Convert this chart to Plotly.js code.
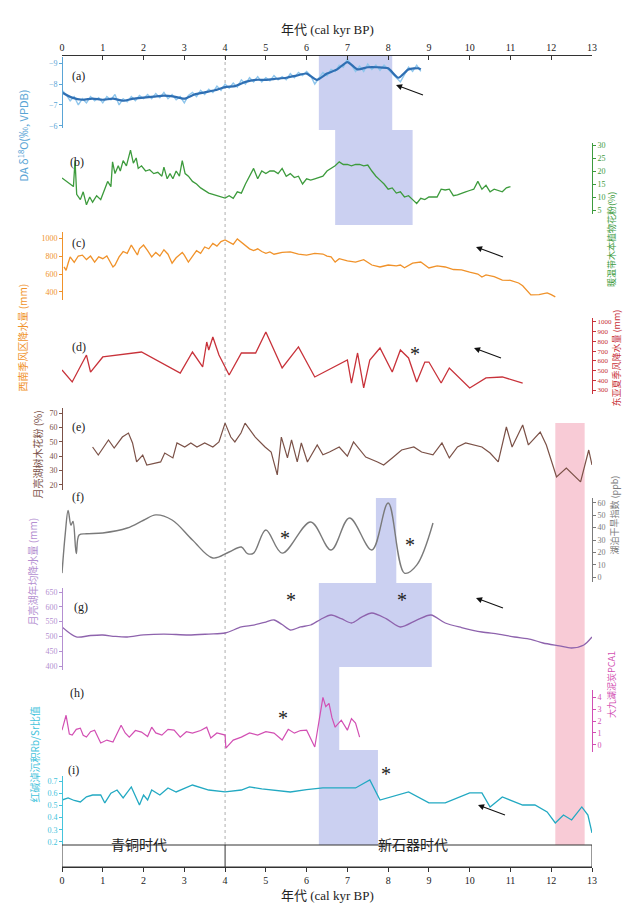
<!DOCTYPE html>
<html><head><meta charset="utf-8">
<script src="https://cdn.plot.ly/plotly-3.0.1.min.js"></script>
<style>html,body{margin:0;padding:0;background:#fff;}#chart{width:630px;height:916px;}</style>
</head><body><div id="chart"></div>
<script>
// ---------------- DATA ----------------
const ageTicks = [0,1,2,3,4,5,6,7,8,9,10,11,12,13];
const periodNames = ['青铜时代','新石器时代'];
const periodCenters = [1.9, 8.6];
const periodBoundary = 4;

// (a) DA cave d18O
const aRawAge = [0,0.1,0.2,0.3,0.4,0.5,0.6,0.7,0.8,0.9,1,1.1,1.2,1.3,1.4,1.5,1.6,1.7,1.8,1.9,2,2.1,2.2,2.3,2.4,2.5,2.6,2.7,2.8,2.9,3,3.1,3.2,3.3,3.4,3.5,3.6,3.7,3.8,3.9,4,4.1,4.2,4.3,4.4,4.5,4.6,4.7,4.8,4.9,5,5.1,5.2,5.3,5.4,5.5,5.6,5.7,5.8,5.9,6,6.1,6.2,6.3,6.4,6.5,6.6,6.7,6.8,6.9,7,7.1,7.2,7.3,7.4,7.5,7.6,7.7,7.8,7.9,8,8.1,8.2,8.3,8.4,8.5,8.6,8.7,8.8];
const aRaw = [-7.7,-7.5,-7.2,-7.4,-7.0,-7.3,-7.1,-7.4,-7.2,-7.35,-7.1,-7.4,-7.25,-7.5,-7.0,-7.3,-7.15,-7.4,-7.2,-7.45,-7.3,-7.5,-7.3,-7.55,-7.35,-7.6,-7.3,-7.5,-7.25,-7.4,-7.1,-7.45,-7.6,-7.4,-7.7,-7.5,-7.75,-7.6,-7.9,-7.7,-8.0,-7.8,-8.05,-7.85,-8.2,-8.0,-8.3,-8.1,-8.35,-8.1,-8.3,-8.15,-8.4,-8.2,-8.35,-8.2,-8.5,-8.3,-8.55,-8.4,-8.6,-8.4,-8.0,-8.3,-8.55,-8.4,-8.7,-8.6,-8.9,-8.8,-9.2,-8.9,-8.6,-8.85,-8.6,-8.95,-8.7,-8.9,-8.65,-8.9,-8.7,-8.5,-8.25,-8.1,-8.45,-8.8,-8.6,-8.9,-8.6];
const aSmoothAge = [0,0.25,0.5,0.75,1,1.25,1.5,1.75,2,2.25,2.5,2.75,3,3.25,3.5,3.75,4,4.25,4.5,4.75,5,5.25,5.5,5.75,6,6.25,6.5,6.75,7,7.25,7.5,7.75,8,8.25,8.5,8.75,8.8];
const aSmooth = [-7.6,-7.35,-7.25,-7.3,-7.25,-7.3,-7.2,-7.3,-7.35,-7.4,-7.45,-7.4,-7.3,-7.5,-7.6,-7.7,-7.85,-7.9,-8.1,-8.2,-8.2,-8.25,-8.3,-8.4,-8.5,-8.2,-8.5,-8.7,-9.05,-8.7,-8.8,-8.8,-8.75,-8.3,-8.7,-8.75,-8.7];

// (b) warm-temperate tree pollen (%)
const bAge = [0,0.1,0.2,0.28,0.32,0.36,0.45,0.52,0.6,0.68,0.75,0.85,0.95,1.05,1.12,1.2,1.24,1.3,1.38,1.43,1.5,1.58,1.68,1.75,1.82,1.87,1.95,2.05,2.15,2.25,2.35,2.45,2.5,2.58,2.65,2.72,2.8,2.88,2.95,3.02,3.1,3.2,3.3,3.4,3.5,3.6,3.7,3.8,3.9,4,4.1,4.2,4.3,4.4,4.5,4.6,4.7,4.8,4.9,5,5.1,5.2,5.3,5.4,5.5,5.6,5.7,5.8,5.9,6,6.1,6.2,6.3,6.4,6.5,6.6,6.7,6.8,6.9,7,7.1,7.2,7.3,7.4,7.5,7.6,7.7,7.8,7.9,8,8.1,8.2,8.3,8.4,8.5,8.6,8.7,8.8,8.9,9,9.1,9.2,9.3,9.4,9.5,9.6,9.7,9.8,9.9,10,10.1,10.2,10.3,10.4,10.5,10.6,10.7,10.8,10.9,11];
const bVal = [17.3,16,15,14,24,11,9,12,7,10,8,10.5,9,13,16,14,23.5,19,22,20,24,22,28,23,25,21,22,20,20.5,19,19.5,18,21.5,17,19,17,20,18,24,19,18,16,15,13.5,12.5,11.5,11,10.5,10,9.6,10.5,9.5,12,11.5,15,18,21,17,20,19,20,20,19,21,18,19,17.5,18,15,17,16.5,17,17.5,18,20,21,22,23.5,22.5,22.5,22,22.5,22.5,22,22.3,20,18,16.5,15,13,13.5,11.5,12,10,10.5,9,7.5,9.5,9,10,10,10,13,12.7,13,10.5,10.8,11.5,12,12.5,13,16,13,14.5,12,13,12.5,12,13.5,14];

// (c) precipitation (mm)
const cAge = [0.05,0.1,0.15,0.2,0.3,0.4,0.5,0.6,0.7,0.8,0.9,1,1.1,1.2,1.25,1.3,1.4,1.5,1.6,1.7,1.8,1.85,1.9,2,2.1,2.2,2.3,2.4,2.5,2.6,2.7,2.8,2.95,3,3.1,3.2,3.3,3.4,3.5,3.6,3.7,3.8,3.9,4,4.1,4.2,4.3,4.4,4.5,4.6,4.7,4.8,4.9,5,5.1,5.2,5.4,5.6,5.8,6,6.2,6.4,6.5,6.6,6.7,6.8,7,7.2,7.4,7.6,7.8,8,8.2,8.3,8.4,8.6,8.8,8.9,9,9.2,9.4,9.6,9.8,10,10.2,10.3,10.4,10.6,10.8,11,11.2,11.3,11.5,11.7,11.9,12,12.1];
const cVal = [680,640,720,790,730,800,810,760,800,733,790,770,800,720,678,700,790,850,830,922,850,811,880,922,860,790,840,800,870,820,720,780,840,810,733,800,860,830,900,880,940,910,960,978,950,930,990,955,910,880,860,880,850,830,845,820,840,845,820,811,830,822,800,790,733,770,745,733,760,700,678,700,690,700,670,720,733,700,667,690,678,650,645,620,600,567,590,570,533,530,500,470,367,370,390,370,345];

// (d) East Asian summer monsoon precipitation (mm)
const dAge = [0,0.25,0.6,0.7,1.0,1.95,2.9,3.2,3.45,3.55,3.6,3.7,3.85,4.1,4.4,4.75,5.0,5.4,5.8,6.2,7.0,7.1,7.25,7.4,7.55,7.8,8.1,8.3,8.5,8.7,8.9,9.0,9.3,9.5,10.0,10.4,10.8,11.3];
const dVal = [506,383,660,485,640,691,475,691,537,794,712,846,660,455,681,681,897,527,743,434,609,372,681,321,609,732,485,712,630,383,588,588,372,527,321,424,434,372];

// (e) tree pollen (%)
const eAge = [0.75,0.89,1.14,1.28,1.48,1.63,1.73,1.83,1.98,2.08,2.42,2.52,2.72,2.82,3.01,3.16,3.31,3.5,3.7,3.85,4.0,4.14,4.24,4.39,4.49,4.74,4.98,5.13,5.28,5.38,5.53,5.63,5.77,5.87,6.02,6.26,6.4,6.56,6.8,7.0,7.15,7.45,7.74,7.89,8.1,8.33,8.63,8.82,9.1,9.32,9.5,9.7,9.9,10.3,10.5,10.7,10.9,11.04,11.3,11.44,11.73,11.88,12.13,12.37,12.72,12.92,13.0];
const eVal = [46.4,40.8,51.3,45.7,53.3,56.1,49.2,36,40.8,33.9,36,42.2,38.8,49.2,46.4,49.2,46.4,49.2,46.4,49.9,63,53.3,49.9,56.1,63,53.3,46.4,42.9,27,53.3,38.8,51.3,36,49.2,36,47.8,41,42.9,46.4,40,49.9,39.4,36,33.9,38.8,44.3,46.4,42.9,41,49.2,38.8,46.4,49.2,46.4,42.2,36,60.3,46.4,61.7,47.8,56.8,47.8,25.6,31.8,22.1,44.3,33.9];

// (f) index (ppb)
const fAge = [0,0.08,0.15,0.22,0.27,0.35,0.42,0.6,1.0,1.6,2.0,2.3,2.7,3.2,3.7,4.1,4.4,4.55,4.7,5.0,5.4,6.1,6.6,7.05,7.6,8.0,8.4,8.7,9.1];
const fVal = [3.2,35,54,42,45,19,34,35,35.7,39.7,46,50.3,46.2,30,15.4,20.3,24.3,19,19.4,38.1,19.4,44.6,21.9,47.8,21.9,60,3.2,9.7,43.8];

// (g) annual precipitation (mm)
const gAge = [0,0.35,0.7,1.0,1.3,1.6,2.0,2.5,3.1,3.6,4.0,4.4,4.7,5.0,5.2,5.4,5.6,5.85,6.1,6.35,6.6,6.85,7.1,7.35,7.6,7.95,8.3,8.7,9.05,9.4,9.8,10.3,10.7,11.1,11.5,11.8,12.2,12.5,12.8,13.0];
const gVal = [531.8,498,503,504.7,500,498,505,508,504.7,508,511.5,531.8,538,548.6,555.4,540,521.6,532,538.5,558,572.3,560,545.3,565,579,560,531.8,555,572.3,545.3,530,514.9,508,498,490,477.7,468,460.8,470.9,498];

// (h) PCA1
const hAge = [0,0.1,0.18,0.25,0.35,0.45,0.52,0.6,0.7,0.8,0.95,1.1,1.25,1.35,1.45,1.55,1.65,1.8,1.95,2.1,2.2,2.3,2.45,2.6,2.75,2.9,3.05,3.2,3.4,3.55,3.65,3.8,4.0,4.02,4.2,4.4,4.6,4.8,5.0,5.2,5.4,5.55,5.7,5.85,6.0,6.2,6.4,6.47,6.55,6.62,6.7,6.85,7.0,7.1,7.2,7.3];
const hVal = [1.23,2.48,0.9,0.82,1.3,1.4,0.8,0.65,1.1,1.23,0.15,0.4,0.23,0.9,1.65,1.0,0.65,1.2,1.07,0.7,1.48,1.0,0.82,1.3,1.23,0.65,1.1,0.98,1.2,1.48,0.57,1.0,0.82,-0.27,0.4,0.65,1.0,0.82,1.1,0.98,0.4,1.3,0.98,1.2,1.23,-0.18,3.98,3.2,3.48,2.3,1.48,2.07,1.23,2.2,1.82,0.65];

// (i) Rb/Sr
const iAge = [0,0.15,0.3,0.45,0.6,0.75,0.95,1.05,1.2,1.35,1.5,1.7,1.9,2.0,2.1,2.2,2.4,2.6,2.8,3.2,3.6,4.0,4.4,4.6,4.9,5.2,5.6,6.0,6.4,7.2,7.55,7.8,8.5,9.0,9.4,10.0,10.3,10.5,10.8,11.3,11.6,11.9,12.1,12.3,12.5,12.75,12.9,13.0];
const iVal = [0.544,0.561,0.54,0.528,0.57,0.585,0.585,0.52,0.6,0.626,0.561,0.651,0.503,0.585,0.544,0.626,0.585,0.643,0.61,0.667,0.626,0.61,0.626,0.651,0.635,0.626,0.61,0.63,0.643,0.643,0.708,0.544,0.61,0.52,0.52,0.602,0.602,0.487,0.569,0.503,0.503,0.446,0.356,0.421,0.38,0.487,0.421,0.274];

// shaded intervals (kyr BP)
const blueBands = [[6.3,8.1],[6.7,8.6],[7.7,8.2],[6.3,9.07],[6.3,6.8],[6.3,7.75]];
const pinkBand = [12.1,12.82];

// ---------------- LAYOUT HELPERS ----------------
const W = 630, H = 916, XL = 62, XR = 592;
const px = v => v / W;
const py = v => 1 - v / H;
const serif = 'Liberation Serif, "Noto Sans CJK SC", serif';
const cjk = '"Noto Sans CJK SC", Liberation Serif, sans-serif';

const C = {a:'#2f6fb3', aL:'#8fc6ec', aT:'#5aa5d6', b:'#3d9b3d', c:'#f0922a', d:'#c8323a', e:'#7b5147', f:'#7a7a7a', g:'#8e63ad', gT:'#b48fd1', h:'#d24fb3', i:'#22a9c2', iT:'#45c4dc'};

function yAxis(top, bot, range, tickvals, color, side) {
  return {
    domain: [py(bot), py(top)], range: range, tickvals: tickvals,
    anchor: 'free', position: side === 'right' ? px(XR) : px(XL), side: side,
    showline: true, linecolor: color, linewidth: 1, ticks: 'outside', ticklen: 3, tickcolor: color,
    tickfont: {family: serif, size: 8, color: color}, showgrid: false, zeroline: false, fixedrange: true
  };
}

const traces = [
  {x: aRawAge, y: aRaw, yaxis: 'y', mode: 'lines', line: {color: C.aL, width: 1.4}},
  {x: aSmoothAge, y: aSmooth, yaxis: 'y', mode: 'lines', line: {color: C.a, width: 2.2, shape: 'spline', smoothing: 0.6}},
  {x: bAge, y: bVal, yaxis: 'y2', mode: 'lines', line: {color: C.b, width: 1.3}},
  {x: cAge, y: cVal, yaxis: 'y3', mode: 'lines', line: {color: C.c, width: 1.3}},
  {x: dAge, y: dVal, yaxis: 'y4', mode: 'lines', line: {color: C.d, width: 1.3}},
  {x: eAge, y: eVal, yaxis: 'y5', mode: 'lines', line: {color: C.e, width: 1.2}},
  {x: fAge, y: fVal, yaxis: 'y6', mode: 'lines', line: {color: C.f, width: 1.4, shape: 'spline', smoothing: 1}},
  {x: gAge, y: gVal, yaxis: 'y7', mode: 'lines', line: {color: C.g, width: 1.3, shape: 'spline', smoothing: 0.8}},
  {x: hAge, y: hVal, yaxis: 'y8', mode: 'lines', line: {color: C.h, width: 1.2}},
  {x: iAge, y: iVal, yaxis: 'y9', mode: 'lines', line: {color: C.i, width: 1.3}},
  {x: [0, 13], y: [-7, -7], xaxis: 'x2', yaxis: 'y', mode: 'lines', line: {width: 0}, hoverinfo: 'skip'}
];
traces.forEach(t => { if (!t.xaxis) t.xaxis = 'x'; t.showlegend = false; t.hoverinfo = 'skip'; });

const xCommon = {
  range: [0, 13], domain: [px(XL), px(XR)], tickvals: ageTicks, showgrid: false, zeroline: false,
  showline: true, linecolor: '#333', linewidth: 1, tickcolor: '#333', ticklen: 4,
  tickfont: {family: serif, size: 10, color: '#222'}, anchor: 'free', fixedrange: true
};

// shapes
const shapes = [];
const bandY = [[56,130],[130,225],[498,583],[583,667],[667,750],[750,845]];
blueBands.forEach((b, k) => shapes.push({type: 'rect', xref: 'x', yref: 'paper', x0: b[0], x1: b[1], y0: py(bandY[k][1]), y1: py(bandY[k][0]), fillcolor: 'rgba(168,176,232,0.6)', line: {width: 0}, layer: 'below'}));
shapes.push({type: 'rect', xref: 'x', yref: 'paper', x0: pinkBand[0], x1: pinkBand[1], y0: py(845), y1: py(423), fillcolor: 'rgba(246,190,204,0.8)', line: {width: 0}, layer: 'below'});
shapes.push({type: 'line', xref: 'x', yref: 'paper', x0: periodBoundary, x1: periodBoundary, y0: py(845), y1: py(55), line: {color: '#999', width: 0.8, dash: 'dot'}, layer: 'below'});
shapes.push({type: 'rect', xref: 'x', yref: 'paper', x0: 0, x1: 13, y0: py(867), y1: py(845), line: {color: '#333', width: 1}});
shapes.push({type: 'line', xref: 'x', yref: 'paper', x0: periodBoundary, x1: periodBoundary, y0: py(867), y1: py(845), line: {color: '#333', width: 1}});

// annotations
const ann = [];
const T = (text, x, y, opt) => ann.push(Object.assign({text: text, x: px(x), y: py(y), xref: 'paper', yref: 'paper', showarrow: false, font: {family: serif, size: 11, color: '#111'}}, opt || {}));
T('年代 (cal kyr BP)', 327, 20, {font: {family: serif, size: 13, color: '#222'}});
T('年代 (cal kyr BP)', 327, 905, {font: {family: serif, size: 13, color: '#222'}});
periodNames.forEach((n, k) => ann.push({text: n, x: periodCenters[k], y: py(856), xref: 'x', yref: 'paper', showarrow: false, font: {family: cjk, size: 14, color: '#222'}}));
['(a)',70,67,'(b)',68,153,'(c)',70,234,'(d)',70,347,'(e)',70,427,'(f)',70,497,'(g)',72,607,'(h)',68,702,'(i)',66,779].forEach((v, k, arr) => { if (k % 3 === 0) T(arr[k], arr[k+1], arr[k+2], {font: {family: serif, size: 12, color: '#222'}}); });
[[415,354],[285,538],[410,545],[291,613],[402,613],[283,731],[386,787]].forEach(p => T('*', p[0], p[1], {font: {family: serif, size: 20, color: '#222'}}));
[[396,85],[476,247],[474,348],[476,598],[478,805]].forEach(p => ann.push({text: ' ', x: px(p[0]), y: py(p[1]), xref: 'paper', yref: 'paper', showarrow: true, ax: 30, ay: 11, arrowhead: 2, arrowsize: 1.1, arrowwidth: 1.1, arrowcolor: '#111', standoff: 0}));
const R = (text, x, y, color, size) => T(text, x, y, {textangle: -90, font: {family: cjk, size: size || 10, color: color}});
R('DA δ<sup>18</sup>O(‰, VPDB)', 12, 88, C.aT, 11);
R('暖温带木本植物花粉(%)', 620, 190, C.b, 9);
R('西南季风区降水量 (mm)', 12, 282, C.c);
R('东亚夏季风降水量 (mm)', 624, 358, C.d, 9);
R('月亮湖树木花粉 (%)', 27, 455, C.e);
R('湖泊干旱指数 (ppb)', 622, 515, C.f, 9);
R('月亮湖年均降水量 (mm)', 22, 628, C.gT);
R('大九湖泥炭PCA1', 620, 720, C.h, 9);
R('红碱淖沉积Rb/Sr比值', 24, 805, C.iT);

const layout = {
  width: W, height: H, margin: {l: 0, r: 0, t: 0, b: 0},
  paper_bgcolor: '#fff', plot_bgcolor: 'rgba(0,0,0,0)', showlegend: false,
  xaxis: Object.assign({}, xCommon, {position: py(867), side: 'bottom', ticks: 'outside'}),
  xaxis2: Object.assign({}, xCommon, {position: py(55), side: 'top', ticks: 'inside', overlaying: 'x', matches: 'x'}),
  yaxis: yAxis(57, 128, [-5.9, -9.29], [-9,-8,-7,-6], C.aT, 'left'),
  yaxis2: yAxis(143, 214, [3.46, 30.77], [5,10,15,20,25,30], C.b, 'right'),
  yaxis3: yAxis(232, 300, [311, 1067], [400,600,800,1000], C.c, 'left'),
  yaxis4: Object.assign(yAxis(318, 394, [259, 1041], [300,400,500,600,700,800,900,1000], C.d, 'right'), {tickfont: {family: serif, size: 7, color: C.d}}),
  yaxis5: yAxis(408, 490, [16.5, 73.5], [20,30,40,50,60,70], C.e, 'left'),
  yaxis6: yAxis(498, 582, [-4, 64], [0,10,20,30,40,50,60], C.f, 'right'),
  yaxis7: yAxis(588, 670, [386.5, 663.5], [400,450,500,550,600,650], C.gT, 'left'),
  yaxis8: yAxis(690, 752, [-0.6, 4.6], [0,1,2,3,4], C.h, 'right'),
  yaxis9: yAxis(776, 845, [0.175, 0.741], [0.2,0.3,0.4,0.5,0.6,0.7], C.iT, 'left'),
  shapes: shapes, annotations: ann
};

Plotly.newPlot('chart', traces, layout, {staticPlot: true, displayModeBar: false});
</script>
</body></html>
